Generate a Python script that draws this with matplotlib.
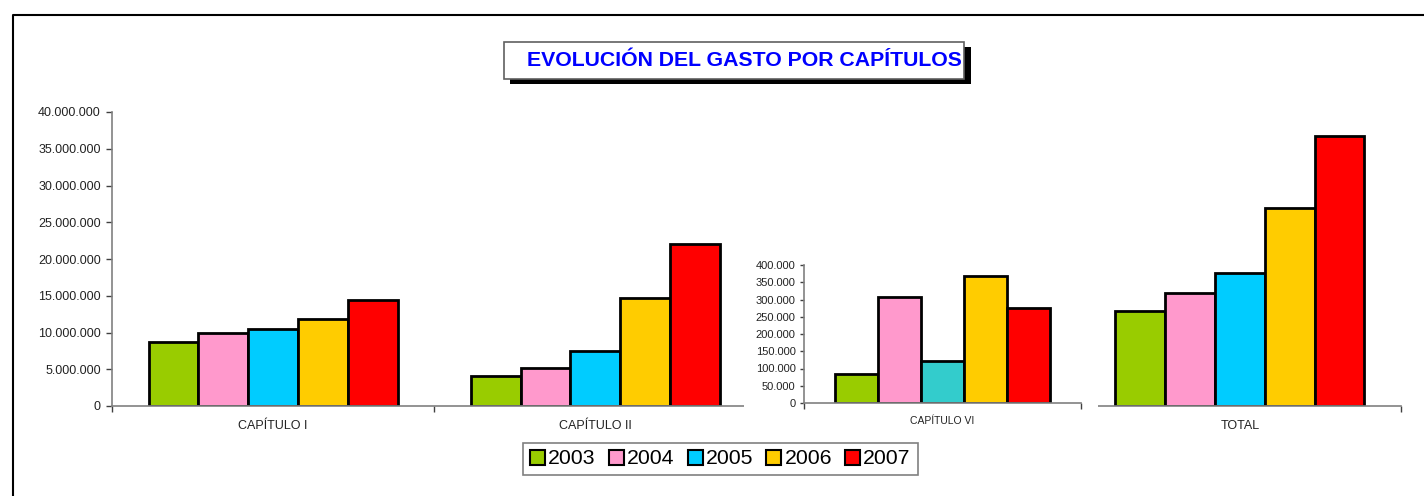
import matplotlib
matplotlib.use("Agg")
import matplotlib.pyplot as plt
from matplotlib.patches import Rectangle, Patch
from matplotlib.lines import Line2D
from matplotlib.ticker import FuncFormatter, FixedLocator
import numpy as np

plt.rcParams['font.family'] = ['Liberation Sans', 'DejaVu Sans']

# ---------------- data ----------------
categories = ["CAPÍTULO I", "CAPÍTULO II", "CAPÍTULO VI", "TOTAL"]
years = ["2003", "2004", "2005", "2006", "2007"]
v2003 = [8_700_000, 4_100_000, 84_000, 12_900_000]
v2004 = [9_900_000, 5_150_000, 308_000, 15_400_000]
v2005 = [10_500_000, 7_450_000, 123_000, 18_100_000]
v2006 = [11_900_000, 14_700_000, 368_000, 27_000_000]
v2007 = [14_400_000, 22_000_000, 276_000, 36_700_000]
series = [v2003, v2004, v2005, v2006, v2007]
inset_category = "CAPÍTULO VI"
title = "EVOLUCIÓN DEL GASTO POR CAPÍTULOS"

colors = ["#99CC00", "#FF99CC", "#00CCFF", "#FFCC00", "#FF0000"]
inset_colors = ["#99CC00", "#FF99CC", "#33CCCC", "#FFCC00", "#FF0000"]

W, H = 1424, 496
fig = plt.figure(figsize=(W / 100, H / 100), dpi=100)
fig.patch.set_facecolor("white")


def fx(px):
    return px / W


def fy(py):
    return 1 - py / H


def thousands(v, pos=None):
    return f"{int(round(v)):,}".replace(",", ".")


SPINE = "#808080"
TXT = "#222222"
group = 0.773
bw = group / len(years)

# ---------------- main axes ----------------
ax = fig.add_axes([fx(112), fy(406), fx(1401) - fx(112), fy(112) - fy(406)])
ax.set_zorder(0)
x = np.arange(len(categories))
for i, (vals, c) in enumerate(zip(series, colors)):
    ax.bar(x - group / 2 + bw * (i + 0.5), vals, width=bw, color=c,
           edgecolor="black", linewidth=2, zorder=2)
ax.set_xlim(-0.5, len(categories) - 0.5)
ax.set_ylim(0, 40_000_000)
ax.set_yticks(np.arange(0, 40_000_001, 5_000_000))
ax.yaxis.set_major_formatter(FuncFormatter(thousands))
ax.xaxis.set_major_locator(FixedLocator(np.arange(-0.5, len(categories), 1.0)))
ax.xaxis.set_major_formatter(FuncFormatter(lambda v, p: ""))
ax.xaxis.set_minor_locator(FixedLocator(x))
ax.set_xticklabels([c if c != inset_category else "" for c in categories], minor=True)
ax.tick_params(axis="x", which="major", length=4, width=1, color="#404040", direction="out")
ax.tick_params(axis="x", which="minor", length=0, pad=10, labelsize=9, labelcolor=TXT)
ax.tick_params(axis="y", length=4, width=1, color="#404040", labelsize=9, pad=4, labelcolor=TXT)
for s in ["top", "right"]:
    ax.spines[s].set_visible(False)
for s in ["left", "bottom"]:
    ax.spines[s].set_color(SPINE)
    ax.spines[s].set_linewidth(1.2)

# white area behind the inset chart
cover = Rectangle((fx(744), fy(436)), fx(1098) - fx(744), fy(255) - fy(436),
                  transform=fig.transFigure, facecolor="white", edgecolor="none", zorder=1)
fig.add_artist(cover)

# ---------------- inset axes ----------------
k = categories.index(inset_category)
iax = fig.add_axes([fx(804), fy(403), fx(1081) - fx(804), fy(265) - fy(403)])
iax.set_zorder(3)
for i, (vals, c) in enumerate(zip(series, inset_colors)):
    iax.bar(-group / 2 + bw * (i + 0.5), vals[k], width=bw, color=c,
            edgecolor="black", linewidth=2, zorder=2)
iax.set_xlim(-0.5, 0.5)
iax.set_ylim(0, 400_000)
iax.set_yticks(np.arange(0, 400_001, 50_000))
iax.yaxis.set_major_formatter(FuncFormatter(thousands))
iax.xaxis.set_major_locator(FixedLocator([-0.5, 0.5]))
iax.xaxis.set_major_formatter(FuncFormatter(lambda v, p: ""))
iax.xaxis.set_minor_locator(FixedLocator([0]))
iax.set_xticklabels([inset_category], minor=True)
iax.tick_params(axis="x", which="major", length=4, width=1, color="#404040", direction="out")
iax.tick_params(axis="x", which="minor", length=0, pad=9, labelsize=7.5, labelcolor=TXT)
iax.tick_params(axis="y", length=3, width=1, color="#404040", labelsize=8, pad=3, labelcolor=TXT)
for s in ["top", "right"]:
    iax.spines[s].set_visible(False)
for s in ["left", "bottom"]:
    iax.spines[s].set_color(SPINE)
    iax.spines[s].set_linewidth(1.2)

# ---------------- title box ----------------
shadow = Rectangle((fx(510), fy(84)), fx(971) - fx(510), fy(47) - fy(84),
                   transform=fig.transFigure, facecolor="black", edgecolor="none", zorder=4)
box = Rectangle((fx(504), fy(79)), fx(964) - fx(504), fy(42) - fy(79),
                transform=fig.transFigure, facecolor="white", edgecolor="#606060",
                linewidth=1.2, zorder=5)
fig.add_artist(shadow)
fig.add_artist(box)
fig.text(fx(527), fy(60.5), title, ha="left", va="center", fontsize=15.3,
         fontweight="bold", color="#0000FF", zorder=6)

# ---------------- legend ----------------
handles = [Patch(facecolor=c, edgecolor="black", linewidth=1.5) for c in colors]
leg = fig.legend(handles, years, loc="center",
                 bbox_to_anchor=(fx(720.5), fy(459)), ncol=5, fontsize=15.3,
                 frameon=True, fancybox=False, edgecolor="#606060",
                 handlelength=0.7, handleheight=0.7, handletextpad=0.15,
                 columnspacing=0.62, borderpad=0.32, borderaxespad=0)
leg.get_frame().set_linewidth(1.2)
leg.set_zorder(6)

# ---------------- outer frame ----------------
frame = Line2D([fx(13), fx(13), 1.0], [0.0, fy(15), fy(15)], transform=fig.transFigure,
               color="black", linewidth=1.5, zorder=7)
fig.add_artist(frame)

fig.savefig("out.png", dpi=100, facecolor="white")
